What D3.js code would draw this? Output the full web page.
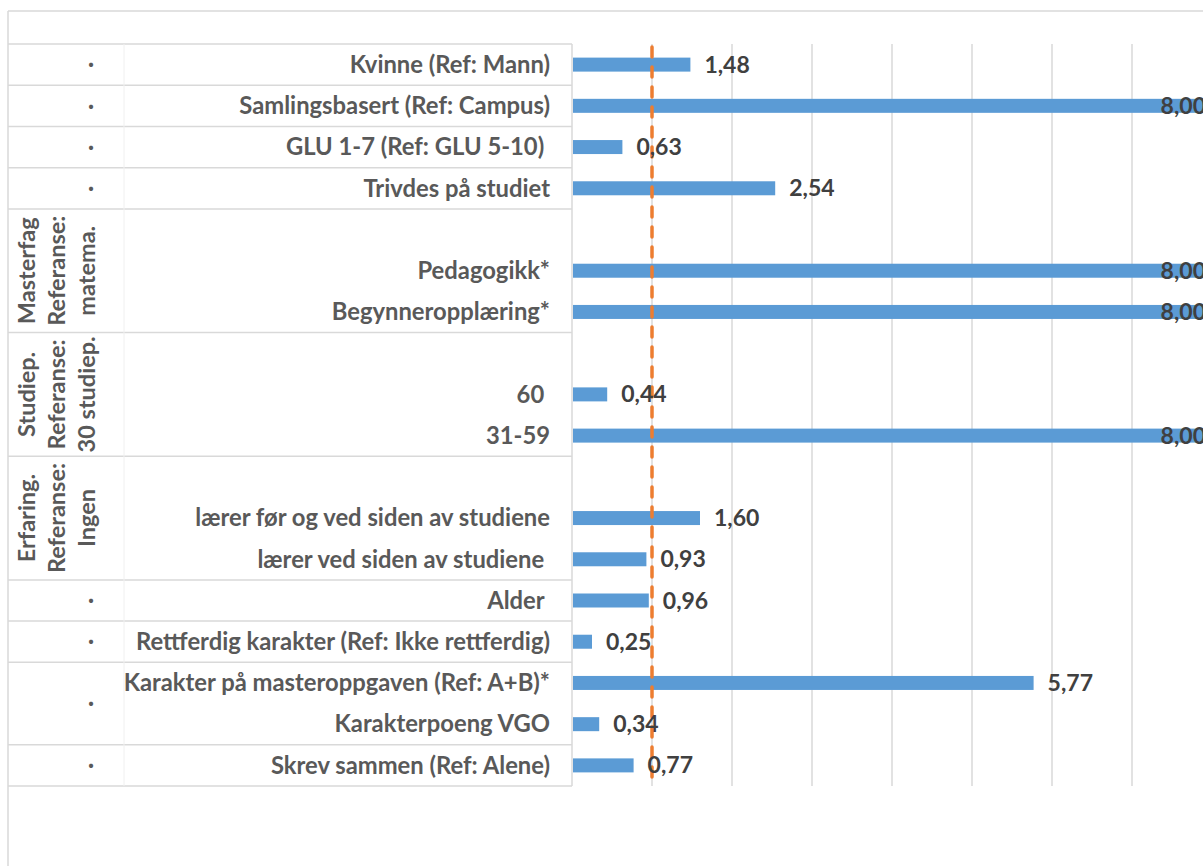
<!DOCTYPE html>
<html>
<head>
<meta charset="utf-8">
<script src="https://cdn.jsdelivr.net/npm/d3@7"></script>
<style>
  html, body { margin: 0; padding: 0; background: #ffffff; }
  svg { display: block; }
  text { font-family: Lato, "Open Sans", sans-serif; font-weight: 700; white-space: pre; }
</style>
</head>
<body>
<svg id="chart" width="1203" height="866"></svg>
<script>
// ---- data ----
const categories = [
  "Kvinne (Ref: Mann)",
  "Samlingsbasert (Ref: Campus)",
  "GLU 1-7 (Ref: GLU 5-10) ",
  "Trivdes på studiet",
  "",
  "Pedagogikk*",
  "Begynneropplæring*",
  "",
  "60 ",
  "31-59",
  "",
  "lærer før og ved siden av studiene",
  "lærer ved siden av studiene ",
  "Alder ",
  "Rettferdig karakter (Ref: Ikke rettferdig)",
  "Karakter på masteroppgaven (Ref: A+B)*",
  "Karakterpoeng VGO",
  "Skrev sammen (Ref: Alene)"
];
const oddsRatios = [1.48, 8.00, 0.63, 2.54, null, 8.00, 8.00, null, 0.44, 8.00, null, 1.60, 0.93, 0.96, 0.25, 5.77, 0.34, 0.77];
// outer category groups: first slot, last slot, label lines
const groupStarts = [0, 1, 2, 3, 4, 7, 10, 13, 14, 15, 17];
const groupEnds   = [0, 1, 2, 3, 6, 9, 12, 13, 14, 16, 17];
const groupLabels = [["·"], ["·"], ["·"], ["·"],
  ["Masterfag", "Referanse:", "matema."],
  ["Studiep.", "Referanse:", "30 studiep."],
  ["Erfaring.", "Referanse:", "Ingen"],
  ["·"], ["·"], ["·"], ["·"]];
const axisMax = 8;
const axisTicks = [0, 1, 2, 3, 4, 5, 6, 7, 8];
const referenceValue = 1;

// ---- layout ----
const svg = d3.select("#chart");
const plotLeft = 572, plotRight = 1212, plotTop = 44, plotBottom = 786;
const tableLeft = 8, colDivider = 124;
const gridColor = "#D9D9D9";

const x = d3.scaleLinear().domain([0, axisMax]).range([plotLeft, plotRight]);
const y = d3.scaleBand().domain(d3.range(categories.length)).range([plotTop, plotBottom]).paddingInner(0).paddingOuter(0);
const barH = 14;

// chart outer border (top and left visible)
svg.append("line").attr("x1", tableLeft).attr("x2", 1203).attr("y1", 11).attr("y2", 11)
  .attr("stroke", gridColor).attr("stroke-width", 1.5);
svg.append("line").attr("x1", tableLeft).attr("x2", tableLeft).attr("y1", 11).attr("y2", 866)
  .attr("stroke", gridColor).attr("stroke-width", 1.5);

// vertical gridlines
svg.append("g").selectAll("line").data(axisTicks).join("line")
  .attr("x1", d => x(d)).attr("x2", d => x(d))
  .attr("y1", plotTop).attr("y2", plotBottom)
  .attr("stroke", gridColor).attr("stroke-width", 1.5);

// table lines
const boundaries = [0].concat(groupEnds.map(e => e + 1));
svg.append("g").selectAll("line").data(boundaries).join("line")
  .attr("x1", tableLeft).attr("x2", plotLeft)
  .attr("y1", d => d < categories.length ? y(d) : plotBottom)
  .attr("y2", d => d < categories.length ? y(d) : plotBottom)
  .attr("stroke", gridColor).attr("stroke-width", 1.5);
svg.append("line").attr("x1", colDivider).attr("x2", colDivider).attr("y1", plotTop).attr("y2", plotBottom)
  .attr("stroke", "#F0F0F0").attr("stroke-width", 1);

// group labels
const gl = svg.append("g");
groupStarts.forEach((s, i) => {
  const top = y(s), bottom = y(groupEnds[i]) + y.bandwidth();
  const cy = (top + bottom) / 2;
  const lines = groupLabels[i];
  if (lines.length === 1) {
    gl.append("text").attr("x", 91).attr("y", cy).attr("dy", "0.35em")
      .attr("text-anchor", "middle").attr("fill", "#595959").attr("font-size", 22).text(lines[0]);
  } else {
    const baselines = [35, 65, 95];
    lines.forEach((t, j) => {
      gl.append("text")
        .attr("transform", `translate(${baselines[j]},${cy}) rotate(-90)`)
        .attr("text-anchor", "middle").attr("fill", "#595959").attr("font-size", 23.5).text(t);
    });
  }
});

// category labels
svg.append("g").selectAll("text").data(categories).join("text")
  .attr("x", 550).attr("y", (d, i) => y(i) + y.bandwidth() / 2).attr("dy", "0.35em")
  .attr("text-anchor", "end").attr("fill", "#595959").attr("font-size", 23.8)
  .text(d => d);

// bars
const barData = oddsRatios.map((v, i) => ({ v, i })).filter(d => d.v !== null);
svg.append("g").selectAll("rect").data(barData).join("rect")
  .attr("x", x(0) + 1)
  .attr("y", d => y(d.i) + y.bandwidth() / 2 - barH / 2)
  .attr("width", d => x(d.v) - x(0) - 1)
  .attr("height", barH)
  .attr("fill", "#5B9BD5");

// reference line at OR = 1
svg.append("line").attr("x1", x(referenceValue)).attr("x2", x(referenceValue))
  .attr("y1", plotTop + 3).attr("y2", plotBottom)
  .attr("stroke", "#ED7D31").attr("stroke-width", 3.5)
  .attr("stroke-linecap", "round").attr("stroke-dasharray", "10 10");

// value labels
const fmt = v => v.toFixed(2).replace(".", ",");
svg.append("g").selectAll("text").data(barData).join("text")
  .attr("x", d => d.v >= axisMax ? x(d.v) - 6 : x(d.v) + 14)
  .attr("y", d => y(d.i) + y.bandwidth() / 2).attr("dy", "0.35em")
  .attr("text-anchor", d => d.v >= axisMax ? "end" : "start")
  .attr("fill", "#404040").attr("font-size", 23)
  .text(d => fmt(d.v));
</script>
</body>
</html>
